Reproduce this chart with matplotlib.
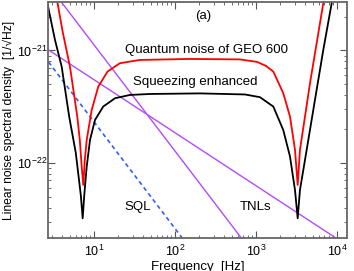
import numpy as np
import matplotlib
matplotlib.use("Agg")
import matplotlib.pyplot as plt
from matplotlib import ticker

plt.rcParams['font.family'] = ['Liberation Sans', 'DejaVu Sans']
plt.rcParams['mathtext.default'] = 'regular'
plt.rcParams['font.size'] = 9.5

# quantum noise of GEO 600 (red)
f_geo = [3.35, 4.14, 5.05, 6.22, 6.68, 7.05, 7.38, 7.70, 8.13, 9.37, 11.3, 14.7, 20.9, 37.0,
         153, 634, 1030, 1330, 1636, 2172, 2630, 3030, 3272, 3491, 4027, 4642, 5610, 6776, 7110]
asd_geo = [3.31e-21, 1.42e-21, 7.18e-22, 2.58e-22, 1.60e-22, 9.27e-23, 6.37e-23, 1.06e-22, 1.60e-22,
           2.96e-22, 4.77e-22, 6.49e-22, 7.70e-22, 8.23e-22, 8.40e-22, 8.32e-22, 7.91e-22, 7.28e-22,
           6.49e-22, 4.17e-22, 2.58e-22, 1.31e-22, 6.37e-23, 1.31e-22, 2.58e-22, 5.11e-22, 1.16e-21,
           2.63e-21, 3.31e-21]

# squeezing enhanced (black)
f_sqz = [2.59, 3.30, 3.99, 4.94, 5.96, 6.87, 7.25, 7.59, 8.13, 8.93, 10.3, 13.0, 18.2, 27.8, 49.1,
         203, 731, 1120, 1636, 2172, 2630, 3030, 3272, 3491, 4227, 5346, 6776, 8603, 9060]
asd_sqz = [2.87e-21, 1.24e-21, 7.18e-22, 2.58e-22, 1.23e-22, 5.20e-23, 3.22e-23, 5.20e-23, 9.27e-23,
           1.60e-22, 2.41e-22, 3.17e-22, 3.76e-22, 4.02e-22, 4.10e-22, 4.15e-22, 4.06e-22, 3.84e-22,
           3.17e-22, 1.96e-22, 1.14e-22, 5.75e-23, 3.22e-23, 5.75e-23, 1.31e-22, 3.63e-22, 1.01e-21,
           2.63e-21, 3.31e-21]

# thermal noise limits (purple) and SQL (blue dashed)
f_tnl1 = [3.99, 666]
asd_tnl1 = [2.67e-21, 2.13e-23]
f_tnl2 = [2.744, 9900]
asd_tnl2 = [1.01e-21, 2.13e-23]
f_sql = [2.744, 124]
asd_sql = [7.9e-22, 2.13e-23]

fig = plt.figure(figsize=(3.54, 2.71), dpi=100)
ax = fig.add_axes([0.137, 0.12, 0.8446, 0.871])

ax.loglog(f_tnl1, asd_tnl1, color='#b44bf5', lw=1.0)
ax.loglog(f_tnl2, asd_tnl2, color='#b44bf5', lw=1.0)
ax.loglog(f_sql, asd_sql, color='#2f5fff', lw=1.2, dashes=(2.5, 2))
ax.loglog(f_geo, asd_geo, color='red', lw=1.3)
ax.loglog(f_sqz, asd_sqz, color='black', lw=1.3)

ax.set_xlim(2.744, 13480)
ax.set_ylim(2.13e-23, 2.67e-21)

ax.xaxis.set_major_locator(ticker.LogLocator(base=10, numticks=10))
ax.xaxis.set_minor_locator(ticker.LogLocator(base=10, subs=np.arange(2, 10), numticks=20))
ax.yaxis.set_minor_locator(ticker.LogLocator(base=10, subs=np.arange(2, 10), numticks=20))
ax.xaxis.set_minor_formatter(ticker.NullFormatter())
ax.yaxis.set_minor_formatter(ticker.NullFormatter())

ax.tick_params(which='both', direction='in', top=True, right=True, color='#555555', labelsize=9)
ax.tick_params(which='major', length=5, width=0.8)
ax.tick_params(axis='y', which='major', pad=1)
ax.tick_params(axis='x', which='major', pad=4)
ax.tick_params(which='minor', length=2.5, width=0.6)
for sp in ax.spines.values():
    sp.set_color('#666666')
    sp.set_linewidth(1.3)

ax.text(0.517, 0.943, '(a)', transform=ax.transAxes, ha='center', va='center')
ax.text(0.530, 0.799, 'Quantum noise of GEO 600', transform=ax.transAxes, ha='center', va='center')
ax.text(0.490, 0.663, 'Squeezing enhanced', transform=ax.transAxes, ha='center', va='center')
ax.text(0.299, 0.135, 'SQL', transform=ax.transAxes, ha='center', va='center')
ax.text(0.694, 0.135, 'TNLs', transform=ax.transAxes, ha='center', va='center')

ax.set_xlabel('Frequency  [Hz]', labelpad=1)
ax.set_ylabel('Linear noise spectral density  [1/\u221aHz]', fontsize=8.7, labelpad=1)

plt.savefig('out.png', dpi=100)
plt.close()
